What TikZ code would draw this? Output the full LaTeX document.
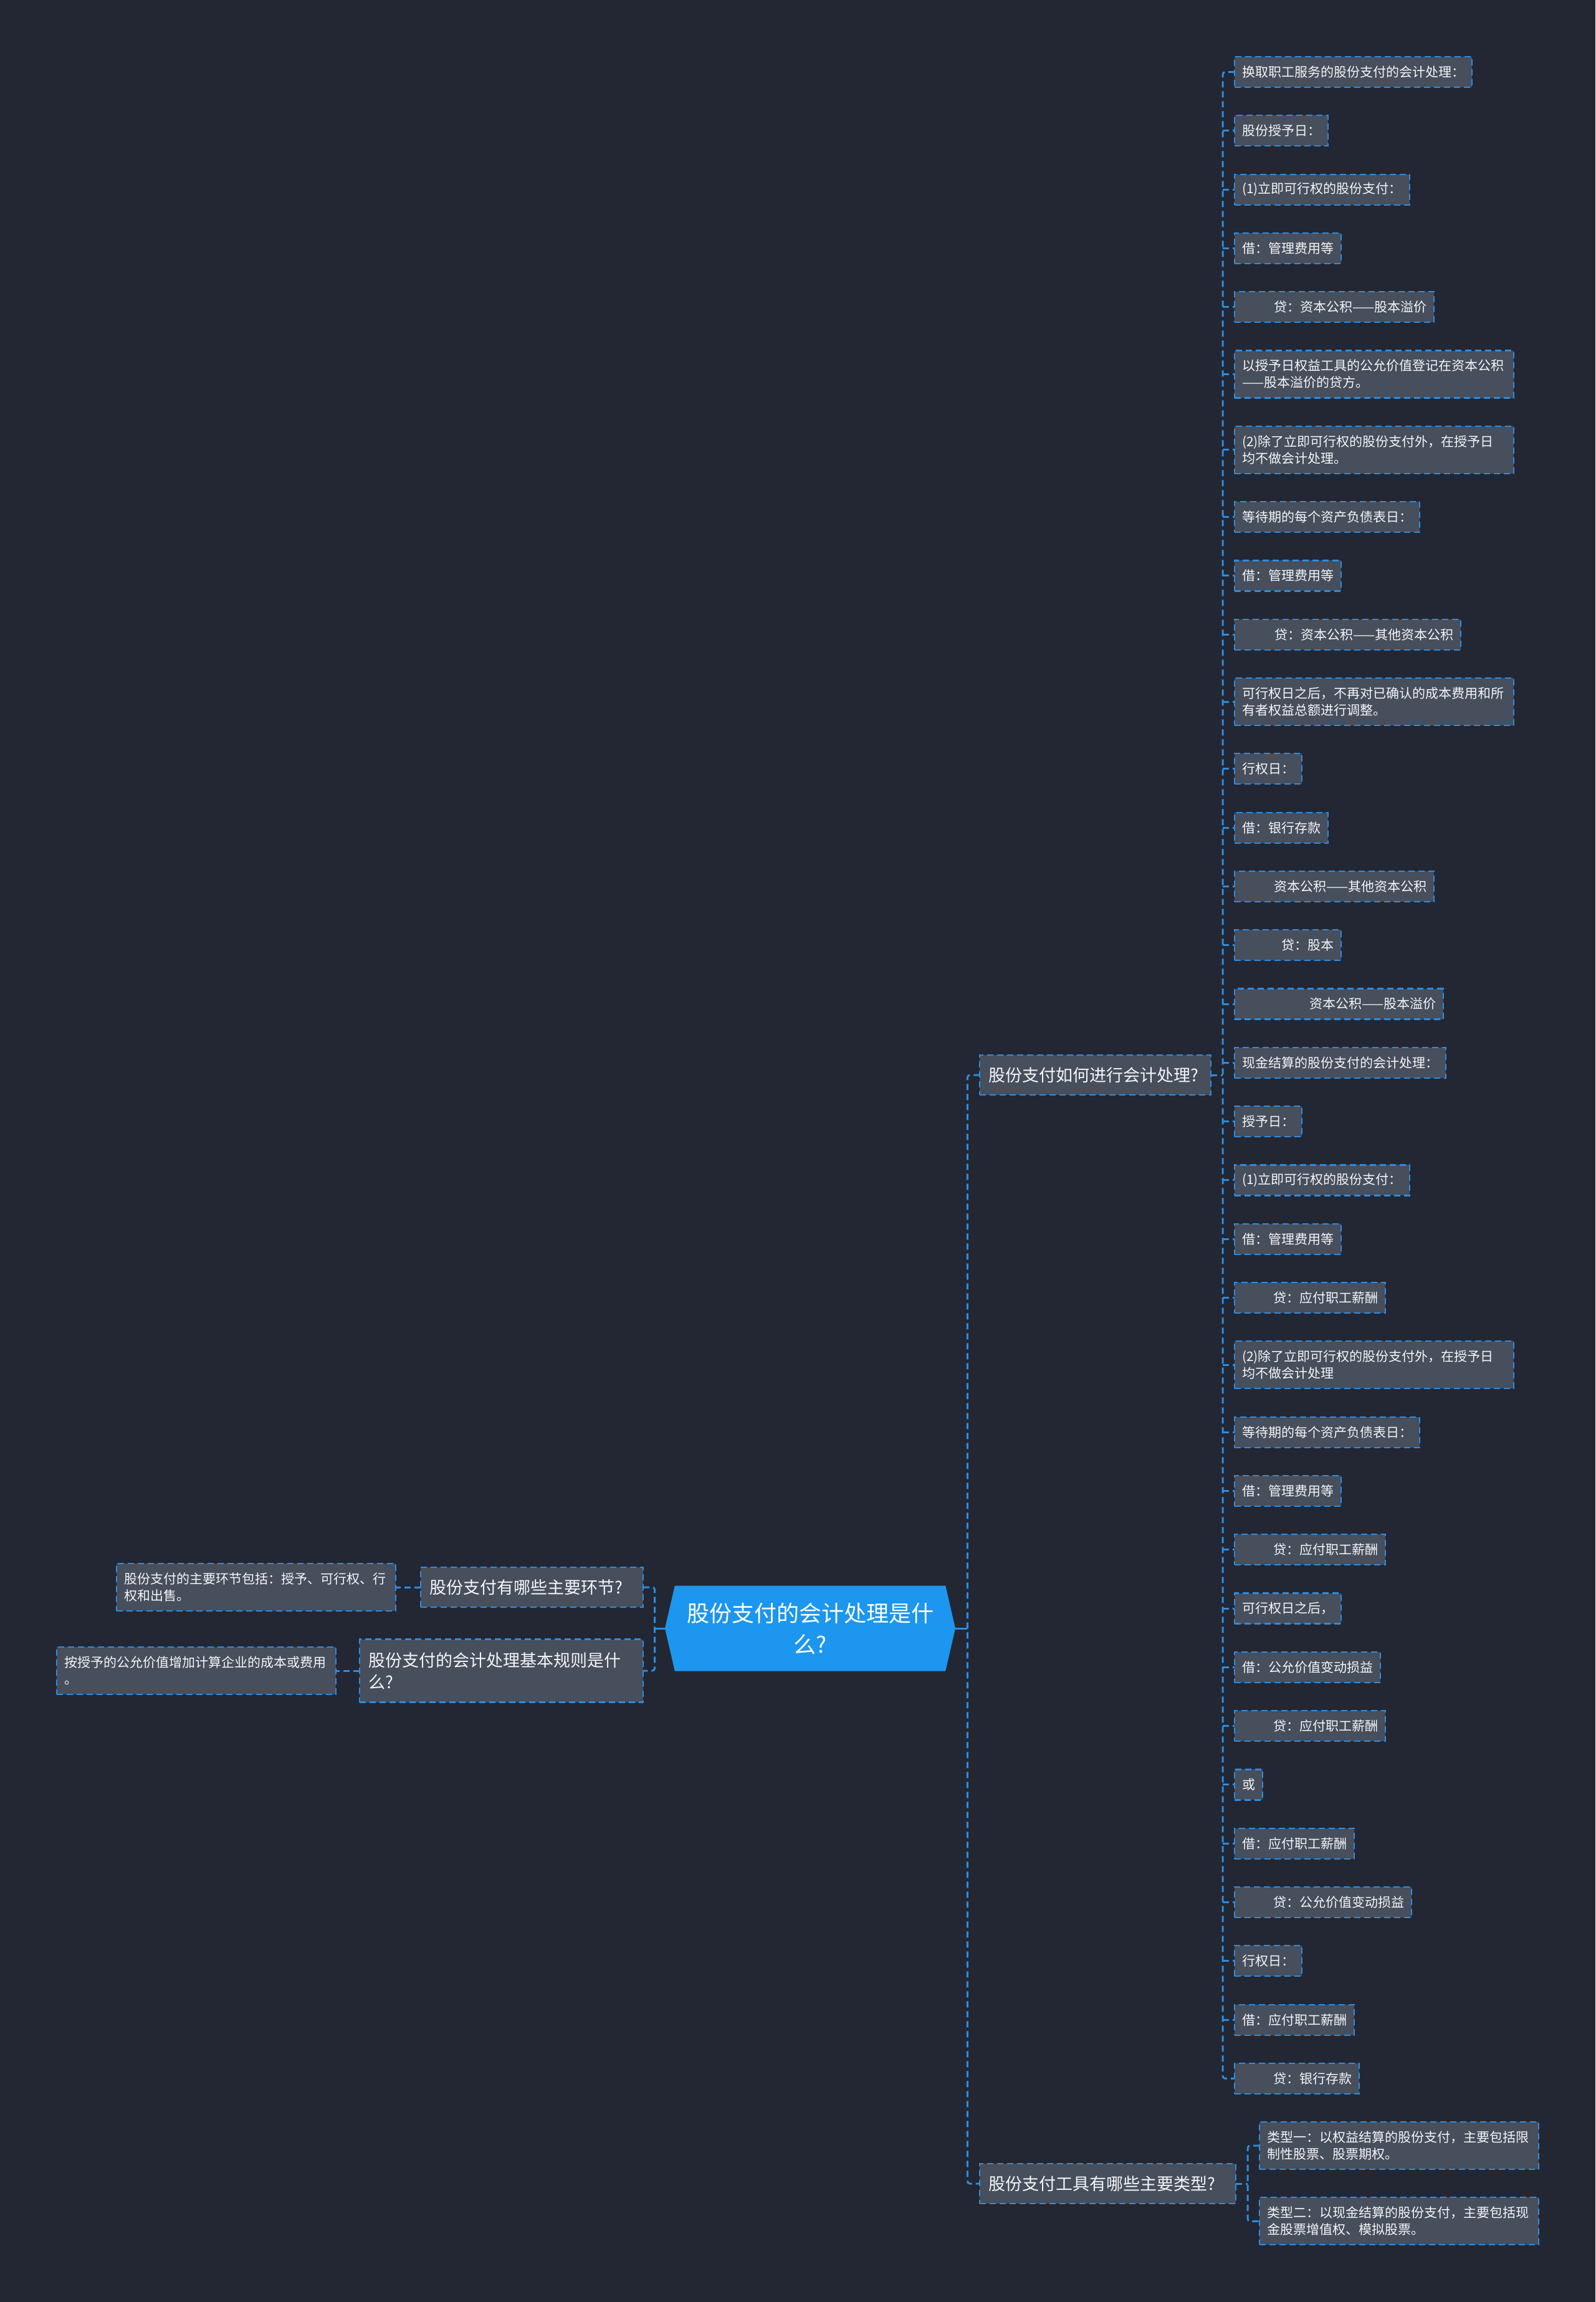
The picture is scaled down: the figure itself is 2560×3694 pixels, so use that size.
\documentclass[tikz,border=0pt]{standalone}
\usepackage{fontspec}
\setmainfont{Noto Sans CJK SC}
\usetikzlibrary{positioning,shapes.symbols}
\definecolor{MapBack}{HTML}{232733}
\definecolor{MapBox}{HTML}{474E5C}
\definecolor{MapLine}{HTML}{2A8DE3}
\definecolor{MapRoot}{HTML}{1C96EE}
\definecolor{MapText}{HTML}{F4F6F8}
\newcommand{\pad}[1]{\hspace*{#1}}
\tikzset{
  mapleaf/.style={
    draw=MapLine,
    fill=MapBox,
    line width=1.1pt,
    dash pattern=on 5pt off 3pt,
    text=MapText,
    align=left,
    anchor=north west,
    outer sep=0pt,
    inner xsep=6pt,
    inner ysep=3pt,
    minimum height=24.5pt,
    font=\fontsize{10.5}{13.5}\selectfont
  },
  mapwide/.style={mapleaf,text width=212pt,minimum height=38pt},
  mapbranch/.style={
    draw=MapLine,
    fill=MapBox,
    line width=1.1pt,
    dash pattern=on 5pt off 3pt,
    text=MapText,
    align=left,
    outer sep=0pt,
    inner xsep=7pt,
    inner ysep=4pt,
    minimum height=32pt,
    font=\fontsize{13.5}{17.5}\selectfont
  },
  maproot/.style={
    shape=signal,
    signal to=east and west,
    signal pointer angle=154,
    fill=MapRoot,
    text=white,
    align=center,
    minimum width=233pt,
    minimum height=68.5pt,
    font=\fontsize{18}{25}\selectfont
  },
  maplink/.style={draw=MapLine,line width=1.5pt,dash pattern=on 5pt off 3pt,rounded corners=2pt},
  maptrunk/.style={draw=MapLine,line width=1.5pt}
}

\begin{document}
\begin{tikzpicture}[x=0.5pt,y=0.5pt,node distance=22.65pt and 0pt]
  \fill[MapBack] (0,0) rectangle (2560,-3694);
  \useasboundingbox (0,0) rectangle (2560,-3694);

  % centre and first level
  \node[maproot] (root) at (1300,-2613) {股份支付的会计处理是什\\么?};
  \node[mapbranch,anchor=west,text width=171.5pt] (howto) at (1572,-1725) {股份支付如何进行会计处理?};
  \node[mapbranch,anchor=west,text width=191.5pt] (types) at (1572,-3504) {股份支付工具有哪些主要类型?};
  \node[mapbranch,anchor=east,text width=164.5pt] (steps) at (1032,-2547) {股份支付有哪些主要环节?};
  \node[mapbranch,anchor=east,text width=213.5pt,minimum height=50.5pt] (rules) at (1032,-2681) {股份支付的会计处理基本规则是什\\么?};

  % left side
  \node[mapwide,left=20pt of steps] (stepsinfo) {股份支付的主要环节包括：授予、可行权、行\\权和出售。};
  \node[mapwide,left=19pt of rules] (rulesinfo) {按授予的公允价值增加计算企业的成本或费用\\。};

  % accounting entries
  \node[mapleaf] (a1) at (1981,-91) {换取职工服务的股份支付的会计处理：};
  \node[mapleaf,below right=of a1.south west] (a2) {股份授予日：};
  \node[mapleaf,below right=of a2.south west] (a3) {(1)立即可行权的股份支付：};
  \node[mapleaf,below right=of a3.south west] (a4) {借：管理费用等};
  \node[mapleaf,below right=of a4.south west] (a5) {\pad{25.5pt}贷：资本公积——股本溢价};
  \node[mapwide,below right=of a5.south west] (a6) {以授予日权益工具的公允价值登记在资本公积\\——股本溢价的贷方。};
  \node[mapwide,below right=of a6.south west] (a7) {(2)除了立即可行权的股份支付外，在授予日\\均不做会计处理。};
  \node[mapleaf,below right=of a7.south west] (a8) {等待期的每个资产负债表日：};
  \node[mapleaf,below right=of a8.south west] (a9) {借：管理费用等};
  \node[mapleaf,below right=of a9.south west] (a10) {\pad{26pt}贷：资本公积——其他资本公积};
  \node[mapwide,below right=of a10.south west] (a11) {可行权日之后，不再对已确认的成本费用和所\\有者权益总额进行调整。};
  \node[mapleaf,below right=of a11.south west] (a12) {行权日：};
  \node[mapleaf,below right=of a12.south west] (a13) {借：银行存款};
  \node[mapleaf,below right=of a13.south west] (a14) {\pad{25.5pt}资本公积——其他资本公积};
  \node[mapleaf,below right=of a14.south west] (a15) {\pad{31.5pt}贷：股本};
  \node[mapleaf,below right=of a15.south west] (a16) {\pad{54pt}资本公积——股本溢价};
  \node[mapleaf,below right=of a16.south west] (a17) {现金结算的股份支付的会计处理：};
  \node[mapleaf,below right=of a17.south west] (a18) {授予日：};
  \node[mapleaf,below right=of a18.south west] (a19) {(1)立即可行权的股份支付：};
  \node[mapleaf,below right=of a19.south west] (a20) {借：管理费用等};
  \node[mapleaf,below right=of a20.south west] (a21) {\pad{25pt}贷：应付职工薪酬};
  \node[mapwide,below right=of a21.south west] (a22) {(2)除了立即可行权的股份支付外，在授予日\\均不做会计处理};
  \node[mapleaf,below right=of a22.south west] (a23) {等待期的每个资产负债表日：};
  \node[mapleaf,below right=of a23.south west] (a24) {借：管理费用等};
  \node[mapleaf,below right=of a24.south west] (a25) {\pad{25pt}贷：应付职工薪酬};
  \node[mapleaf,below right=of a25.south west] (a26) {可行权日之后，};
  \node[mapleaf,below right=of a26.south west] (a27) {借：公允价值变动损益};
  \node[mapleaf,below right=of a27.south west] (a28) {\pad{25pt}贷：应付职工薪酬};
  \node[mapleaf,below right=of a28.south west] (a29) {或};
  \node[mapleaf,below right=of a29.south west] (a30) {借：应付职工薪酬};
  \node[mapleaf,below right=of a30.south west] (a31) {\pad{25pt}贷：公允价值变动损益};
  \node[mapleaf,below right=of a31.south west] (a32) {行权日：};
  \node[mapleaf,below right=of a32.south west] (a33) {借：应付职工薪酬};
  \node[mapleaf,below right=of a33.south west] (a34) {\pad{25pt}贷：银行存款};

  % instrument types
  \node[mapwide] (typeone) at (2021,-3405) {类型一：以权益结算的股份支付，主要包括限\\制性股票、股票期权。};
  \node[mapwide,below right=of typeone.south west] (typetwo) {类型二：以现金结算的股份支付，主要包括现\\金股票增值权、模拟股票。};

  % connectors
  \coordinate[right=9.5pt of root.east] (rootr);
  \coordinate[left=8pt of root.west] (rootl);
  \coordinate[right=9.5pt of howto.east] (howtor);
  \coordinate[right=9.5pt of types.east] (typesr);
  \draw[maptrunk] (root.east) -- (rootr);
  \draw[maptrunk] (root.west) -- (rootl);
  \draw[maplink] (howto.west) -| (rootr) |- (types.west);
  \draw[maplink] (steps.east) -| (rootl) |- (rules.east);
  \draw[maplink] (steps.west) -- (stepsinfo.east);
  \draw[maplink] (rules.west) -- (rulesinfo.east);
  \draw[maplink] (howto.east) -- (howtor);
  \draw[maplink] (a1.west) -| (howtor) |- (a34.west);
  \foreach \i in {2,...,33}
    \draw[maplink] (howtor |- a\i.west) -- (a\i.west);
  \draw[maplink] (types.east) -- (typesr);
  \draw[maplink] (typeone.west) -| (typesr) |- (typetwo.west);
\end{tikzpicture}
\end{document}
